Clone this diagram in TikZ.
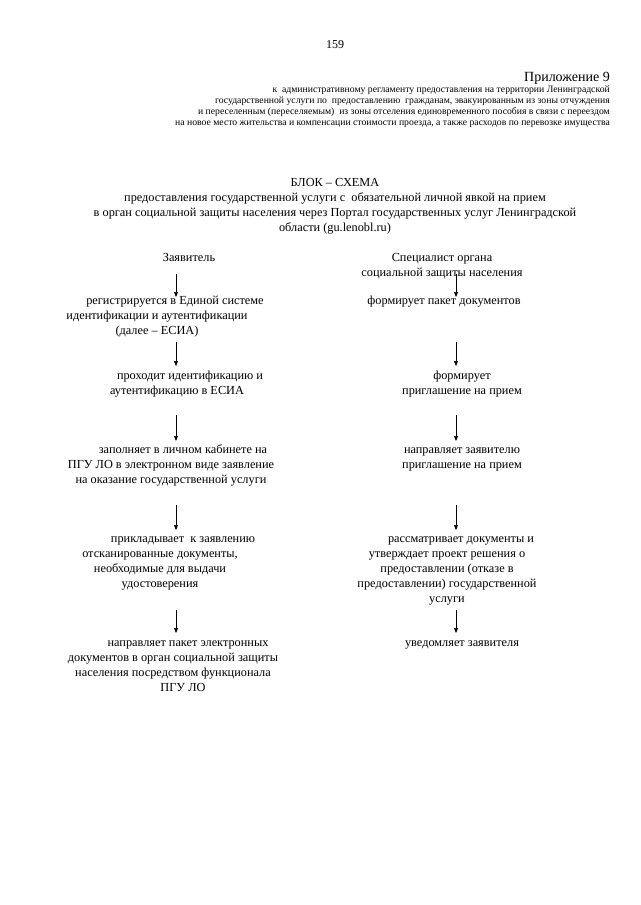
\documentclass[tikz,border=0pt]{standalone}
\usepackage{fontspec}
\setmainfont{Liberation Serif}
\usetikzlibrary{arrows.meta}

\begin{document}
\begin{tikzpicture}[x=1pt, y=-1pt,
    txt/.style={align=center, inner sep=0pt, anchor=base, font=\fontsize{12.3}{15}\selectfont},
    small/.style={align=right, inner sep=0pt, font=\fontsize{9.7}{11}\selectfont},
    arr/.style={-{Triangle[length=5pt, width=4pt]}, line width=0.6pt}]
    % Page frame
    \useasboundingbox (0,0) rectangle (640,905);

    % Define the columns of the arrows
    \coordinate (lcol) at (176,0);
    \coordinate (rcol) at (456,0);

    % Place the header (nodes sit on the baseline of their last line)
    \node (page) at (335,45) [inner sep=0pt, font=\fontsize{12}{14}\selectfont] {159};
    \node (appx) at (610,81) [anchor=base east, inner sep=0pt, font=\fontsize{14}{16}\selectfont] {Приложение 9};
    \node (regl) at (610,125) [small, anchor=base east] {к~ административному регламенту предоставления на территории Ленинградской\\
        государственной услуги по~ предоставлению~ гражданам, эвакуированным из зоны отчуждения\\
        и переселенным (переселяемым)~ из зоны отселения единовременного пособия в связи с переездом\\
        на новое место жительства и компенсации стоимости проезда, а также расходов по перевозке имущества};

    % Place the title
    \node (title) at (335,231.5) [txt] {БЛОК – СХЕМА\\
        предоставления государственной услуги с~ обязательной личной явкой на прием\\
        в орган социальной защиты населения через Портал государственных услуг Ленинградской\\
        области (gu.lenobl.ru)};

    % Left column: applicant
    \node (zav) at (189,261) [txt] {Заявитель};
    \node (l1) at (157,334) [txt] {\hspace*{36pt}регистрируется в Единой системе\\
        идентификации и аутентификации\\(далее – ЕСИА)};
    \node (l2) at (177,394) [txt] {\hspace*{26pt}проходит идентификацию и\\аутентификацию в ЕСИА};
    \node (l3) at (171,483) [txt] {\hspace*{24pt}заполняет в личном кабинете на\\
        ПГУ ЛО в электронном виде заявление\\на оказание государственной услуги};
    \node (l4) at (160,587) [txt] {\hspace*{46pt}прикладывает~ к заявлению\\
        отсканированные документы,\\необходимые для выдачи\\удостоверения};
    \node (l5) at (173,691) [txt] {\hspace*{30pt}направляет пакет электронных\\
        документов в орган социальной защиты\\населения посредством функционала\\
        \hspace*{20pt}ПГУ ЛО};

    % Right column: specialist
    \node (spec) at (442,276) [txt] {Специалист органа\\социальной защиты населения};
    \node (r1) at (444,304) [txt] {формирует пакет документов};
    \node (r2) at (462,394) [txt] {формирует\\приглашение на прием};
    \node (r3) at (462,468) [txt] {направляет заявителю\\приглашение на прием};
    \node (r4) at (447,602) [txt] {\hspace*{28pt}рассматривает документы и\\
        утверждает проект решения о\\предоставлении (отказе в\\
        предоставлении) государственной\\услуги};
    \node (r5) at (462,646) [txt] {уведомляет заявителя};

    % Draw the arrows
    \draw[arr] ([yshift=60pt]l1.base -| lcol) -- ([yshift=37pt]l1.base -| lcol);
    \draw[arr] ([yshift=30pt]r1.base -| rcol) -- ([yshift=7pt]r1.base -| rcol);
    \draw[arr] ([yshift=52pt]l2.base -| lcol) -- ([yshift=28pt]l2.base -| lcol);
    \draw[arr] ([yshift=52pt]r2.base -| rcol) -- ([yshift=28pt]r2.base -| rcol);
    \draw[arr] ([yshift=68pt]l3.base -| lcol) -- ([yshift=42pt]l3.base -| lcol);
    \draw[arr] ([yshift=53pt]r3.base -| rcol) -- ([yshift=27pt]r3.base -| rcol);
    \draw[arr] ([yshift=82pt]l4.base -| lcol) -- ([yshift=57pt]l4.base -| lcol);
    \draw[arr] ([yshift=97pt]r4.base -| rcol) -- ([yshift=72pt]r4.base -| rcol);
    \draw[arr] ([yshift=81pt]l5.base -| lcol) -- ([yshift=58pt]l5.base -| lcol);
    \draw[arr] ([yshift=36pt]r5.base -| rcol) -- ([yshift=13pt]r5.base -| rcol);

\end{tikzpicture}
\end{document}
